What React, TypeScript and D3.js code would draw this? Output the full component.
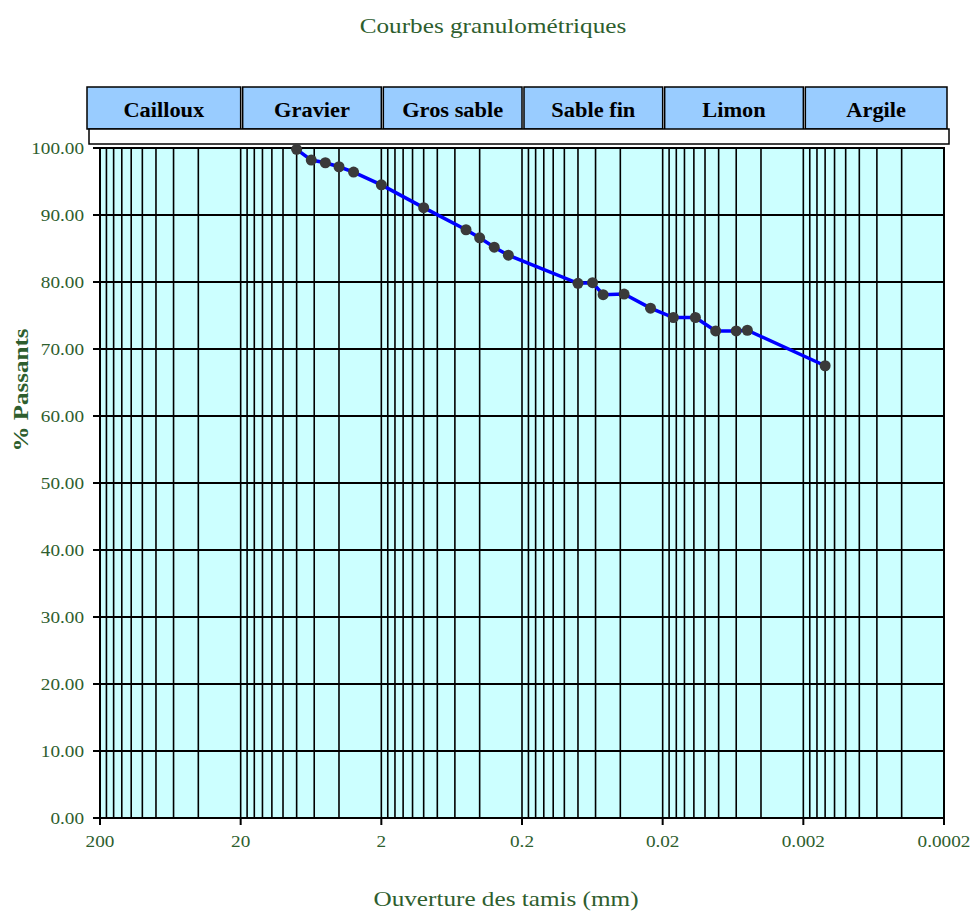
import React from 'react';
import * as d3 from 'd3';

// sieve opening (mm) and % passing
const openings = [8, 6.3, 5, 4, 3.15, 2, 1, 0.5, 0.4, 0.315, 0.25, 0.08, 0.063, 0.053, 0.0376, 0.0244, 0.0168, 0.0117, 0.0084, 0.006, 0.005, 0.0014];
const passing = [99.8, 98.2, 97.8, 97.2, 96.4, 94.5, 91.1, 87.8, 86.6, 85.2, 84.0, 79.8, 79.9, 78.1, 78.2, 76.1, 74.7, 74.7, 72.7, 72.7, 72.8, 67.5];

const classes = ['Cailloux', 'Gravier', 'Gros sable', 'Sable fin', 'Limon', 'Argile'];
const classBounds = [200, 20, 2, 0.2, 0.02, 0.002, 0.0002];

const xTickValues = [200, 20, 2, 0.2, 0.02, 0.002, 0.0002];
const xTickLabels = ['200', '20', '2', '0.2', '0.02', '0.002', '0.0002'];
const yTickValues = [0, 10, 20, 30, 40, 50, 60, 70, 80, 90, 100];

const green = '#2e5e2e';
const serif = '"Liberation Serif", "Times New Roman", serif';

export default function App() {
  const left = 100, right = 944, top = 148, bottom = 818;
  const x = d3.scaleLog().domain([200, 0.0002]).range([left, right]);
  const y = d3.scaleLinear().domain([0, 100]).range([bottom, top]);

  // minor grid: 1..9 times each decade start
  const grid: number[] = [];
  for (let e = -4; e <= 1; e++) {
    const b = 2 * Math.pow(10, e);
    for (let k = 1; k < 10; k++) grid.push(b * k);
  }

  const line = d3.line<number>()
    .x((_, i) => x(openings[i]))
    .y(d => y(d));

  return (
    <svg width={973} height={916} style={{ position: 'absolute', left: 0, top: 0 }} fontFamily={serif}>
      <text transform="translate(493,33) scale(1.2,1)" textAnchor="middle" fontSize={21} fill={green}>Courbes granulométriques</text>

      {/* class header */}
      {classes.map((c, i) => {
        const x0 = i === 0 ? 87 : x(classBounds[i]) + 2;
        const x1 = i === classes.length - 1 ? 947 : x(classBounds[i + 1]);
        return (
          <g key={c}>
            <rect x={x0} y={87} width={x1 - x0} height={i === 4 ? 44 : 42} fill="#99ccff" stroke="#000" strokeWidth={1.5} />
            <text transform={`translate(${(x0 + x1) / 2},117) scale(1.12,1)`} textAnchor="middle" fontSize={20} fontWeight="bold">{c}</text>
          </g>
        );
      })}
      <rect x={89} y={129} width={860} height={15} fill="#fff" stroke="#000" strokeWidth={1.5} />

      {/* plot area */}
      <rect x={left} y={top} width={right - left} height={bottom - top} fill="#ccffff" />
      {grid.map((v, i) => (
        <line key={'v' + i} x1={x(v)} x2={x(v)} y1={top} y2={bottom} stroke="#000" strokeWidth={1.6} />
      ))}
      {yTickValues.map(v => (
        <g key={'h' + v}>
          <line x1={left - 7} x2={right} y1={y(v)} y2={y(v)} stroke="#000" strokeWidth={1.8} />
          <text transform={`translate(84,${y(v) + 5.5}) scale(1.2,1)`} textAnchor="end" fontSize={16} fill={green}>{v.toFixed(2)}</text>
        </g>
      ))}
      <rect x={left} y={top} width={right - left} height={bottom - top} fill="none" stroke="#000" strokeWidth={2} />
      {xTickValues.map((v, i) => (
        <g key={'xt' + i}>
          <line x1={x(v)} x2={x(v)} y1={bottom} y2={bottom + 7} stroke="#000" strokeWidth={2} />
          <text transform={`translate(${x(v)},847) scale(1.2,1)`} textAnchor="middle" fontSize={16} fill={green}>{xTickLabels[i]}</text>
        </g>
      ))}

      {/* curve */}
      <path d={line(passing) || ''} fill="none" stroke="#0000ff" strokeWidth={3.5} />
      {passing.map((p, i) => (
        <circle key={'p' + i} cx={x(openings[i])} cy={y(p)} r={5.5} fill="#3a3a3a" />
      ))}

      <text transform="translate(28,390) rotate(-90) scale(1.25,1)" textAnchor="middle" fontSize={20} fontWeight="bold" fill={green}>% Passants</text>
      <text transform="translate(506,906) scale(1.2,1)" textAnchor="middle" fontSize={21} fill={green}>Ouverture des tamis (mm)</text>
    </svg>
  );
}
